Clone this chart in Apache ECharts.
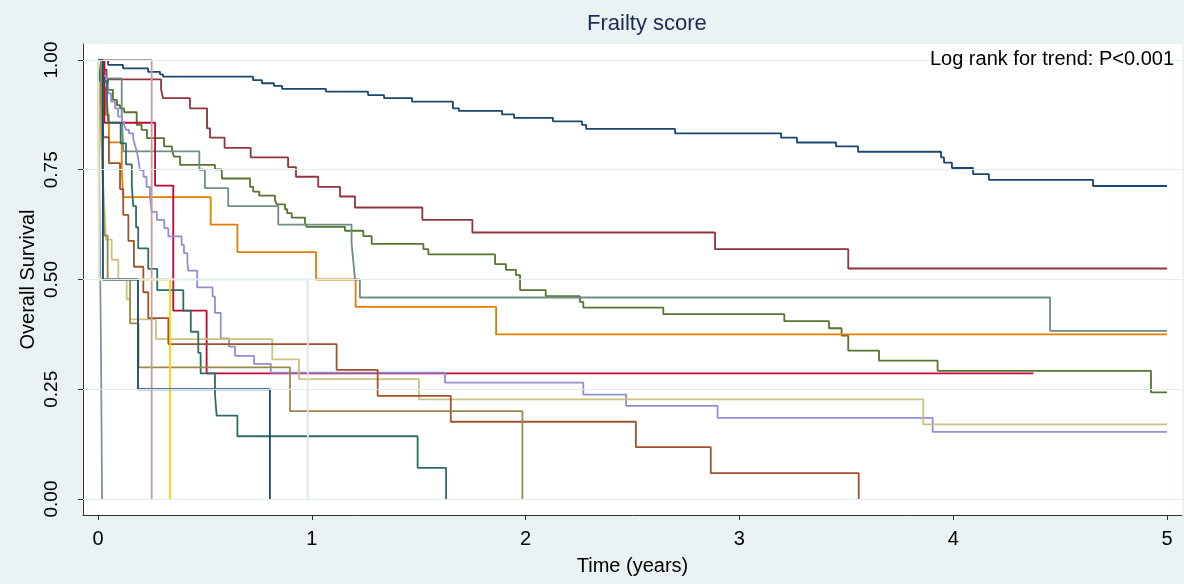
<!DOCTYPE html>
<html>
<head>
<meta charset="utf-8">
<script src="https://cdn.jsdelivr.net/npm/echarts@6/dist/echarts.min.js"></script>
<style>
  html, body { margin: 0; padding: 0; background: #eaf2f3; }
  #chart { width: 1184px; height: 584px; }
</style>
</head>
<body>
<div id="chart"></div>
<script>
// Kaplan-Meier step curves by frailty score: time (years) where each level starts, and survival level.
const score0Time = [0, 0.047, 0.117, 0.234, 0.290, 0.304, 0.725, 0.767, 0.823, 0.861, 1.066, 1.263, 1.338, 1.469, 1.660, 1.688, 1.890, 1.946, 2.128, 2.264, 2.283, 2.699, 3.195, 3.269, 3.452, 3.555, 3.943, 3.957, 3.994, 4.093, 4.167, 4.654, 5.0];
const score0Surv = [1, 0.989, 0.981, 0.973, 0.967, 0.962, 0.954, 0.947, 0.941, 0.934, 0.928, 0.920, 0.913, 0.905, 0.890, 0.884, 0.876, 0.868, 0.860, 0.852, 0.843, 0.833, 0.823, 0.812, 0.803, 0.791, 0.778, 0.766, 0.754, 0.740, 0.727, 0.713, 0.713];

const score1Time = [0, 0.023, 0.040, 0.295, 0.304, 0.430, 0.510, 0.524, 0.592, 0.714, 0.889, 0.926, 1.030, 1.132, 1.202, 1.517, 1.751, 2.886, 3.509, 5.0];
const score1Surv = [1, 0.978, 0.956, 0.933, 0.913, 0.890, 0.844, 0.823, 0.800, 0.778, 0.756, 0.734, 0.711, 0.689, 0.664, 0.636, 0.607, 0.569, 0.525, 0.525];

const score2Time = [0, 0.023, 0.047, 0.070, 0.089, 0.103, 0.122, 0.181, 0.204, 0.229, 0.309, 0.346, 0.355, 0.384, 0.547, 0.579, 0.711, 0.726, 0.754, 0.828, 0.836, 0.875, 0.885, 0.906, 0.968, 0.976, 1.155, 1.241, 1.280, 1.522, 1.545, 1.857, 1.908, 1.955, 1.974, 2.094, 2.254, 2.270, 2.644, 3.210, 3.419, 3.478, 3.509, 3.653, 3.927, 4.925, 5.0];
const score2Surv = [1, 0.955, 0.932, 0.909, 0.897, 0.890, 0.881, 0.852, 0.841, 0.822, 0.803, 0.795, 0.780, 0.761, 0.751, 0.730, 0.711, 0.700, 0.691, 0.680, 0.671, 0.660, 0.651, 0.641, 0.629, 0.620, 0.611, 0.599, 0.581, 0.569, 0.557, 0.535, 0.522, 0.510, 0.476, 0.462, 0.449, 0.436, 0.421, 0.405, 0.389, 0.372, 0.338, 0.315, 0.292, 0.243, 0.243];

const score3Time = [0, 0.019, 0.037, 0.051, 0.111, 0.118, 0.527, 0.652, 1.020, 1.205, 1.862, 5.0];
const score3Surv = [1, 0.9375, 0.875, 0.8125, 0.75, 0.6875, 0.625, 0.5625, 0.5, 0.4375, 0.375, 0.375];

const score4Time = [0, 0.028, 0.111, 0.115, 0.118, 0.474, 0.500, 0.609, 0.843, 1.186, 1.194, 1.202, 1.225, 4.453, 5.0];
const score4Surv = [1, 0.958, 0.875, 0.833, 0.792, 0.750, 0.708, 0.667, 0.625, 0.583, 0.542, 0.500, 0.459, 0.383, 0.383];

const score5Time = [0, 0.030, 0.267, 0.352, 0.508, 4.375];
const score5Surv = [1, 0.857, 0.714, 0.429, 0.286, 0.286];

const score6Time = [0, 0.023, 0.037, 0.047, 0.061, 0.080, 0.094, 0.112, 0.122, 0.131, 0.145, 0.164, 0.173, 0.182, 0.189, 0.196, 0.213, 0.227, 0.243, 0.251, 0.275, 0.310, 0.329, 0.391, 0.402, 0.418, 0.422, 0.464, 0.536, 0.547, 0.574, 0.613, 0.641, 0.730, 0.808, 1.623, 2.270, 2.470, 2.898, 3.904, 5.0];
const score6Surv = [1, 0.964, 0.946, 0.924, 0.905, 0.890, 0.871, 0.859, 0.852, 0.841, 0.833, 0.822, 0.806, 0.791, 0.772, 0.749, 0.734, 0.711, 0.689, 0.654, 0.636, 0.617, 0.598, 0.579, 0.560, 0.538, 0.520, 0.482, 0.461, 0.424, 0.366, 0.347, 0.326, 0.308, 0.288, 0.265, 0.238, 0.212, 0.185, 0.153, 0.153];

const score7Time = [0, 0.005, 0.007, 0.009, 0.014, 0.019, 0.023, 0.028, 0.033, 0.037, 0.064, 0.095, 0.134, 0.150, 0.271, 0.815, 0.940, 1.501, 3.860, 5.0];
const score7Surv = [1, 0.955, 0.909, 0.864, 0.818, 0.773, 0.727, 0.682, 0.636, 0.591, 0.545, 0.500, 0.455, 0.409, 0.364, 0.318, 0.273, 0.227, 0.170, 0.170];

const score8Time = [0, 0.014, 0.019, 0.025, 0.051, 0.103, 0.118, 0.142, 0.168, 0.212, 0.235, 0.329, 1.116, 1.308, 1.650, 2.516, 2.866, 3.558];
const score8Surv = [1, 0.941, 0.882, 0.824, 0.765, 0.706, 0.647, 0.588, 0.529, 0.471, 0.412, 0.353, 0.294, 0.235, 0.176, 0.118, 0.059, 0];

const score9Time = [0, 0.007, 0.014, 0.019];
const score9Surv = [1, 0.667, 0.333, 0];

const score10Time = [0, 0.009, 0.042, 0.048, 0.106, 0.131, 0.158, 0.165, 0.178, 0.188, 0.235, 0.277, 0.399, 0.434, 0.469, 0.480, 0.547, 0.555, 0.652, 1.495, 1.628];
const score10Surv = [1, 0.952, 0.905, 0.857, 0.810, 0.762, 0.714, 0.667, 0.619, 0.571, 0.524, 0.476, 0.429, 0.381, 0.333, 0.286, 0.238, 0.190, 0.143, 0.071, 0];

const score11Time = [0, 0.014, 0.019, 0.023, 0.029, 0.045, 0.150, 0.189, 0.898, 1.985];
const score11Surv = [1, 0.9, 0.8, 0.7, 0.6, 0.5, 0.4, 0.3, 0.2, 0];

const score12Time = [0, 0.251];
const score12Surv = [1, 0];

const score13Time = [0, 0.006, 0.337];
const score13Surv = [1, 0.5, 0];

const score14Time = [0, 0.005, 0.981];
const score14Surv = [1, 0.5, 0];

const score15Time = [0, 0.023, 0.187, 0.804];
const score15Surv = [1, 0.5, 0.25, 0];

// Stata s2color line colours, cycling for the 16th group
const lineColors = ['#1a476f', '#90353b', '#55752f', '#e37e00', '#6e8e84', '#c10534', '#938dd2', '#cac27e',
                    '#a0522d', '#7b92a8', '#2d6d66', '#9c8847', '#bfa19c', '#ffd200', '#d9e6eb', '#1a476f'];

const xTicks = [0, 1, 2, 3, 4, 5];
const yTicks = [0, 0.25, 0.5, 0.75, 1];

const groups = [
  [score0Time, score0Surv], [score1Time, score1Surv], [score2Time, score2Surv], [score3Time, score3Surv],
  [score4Time, score4Surv], [score5Time, score5Surv], [score6Time, score6Surv], [score7Time, score7Surv],
  [score8Time, score8Surv], [score9Time, score9Surv], [score10Time, score10Surv], [score11Time, score11Surv],
  [score12Time, score12Surv], [score13Time, score13Surv], [score14Time, score14Surv], [score15Time, score15Surv]
];

const font = 'Arial, "Liberation Sans", Helvetica, sans-serif';

const curveSeries = groups.map(([time, surv], i) => ({
  name: 'Score ' + i,
  type: 'line',
  step: 'end',
  showSymbol: false,
  symbol: 'none',
  z: 3,
  clip: false,
  lineStyle: { color: lineColors[i], width: 1.8 },
  data: time.map((t, k) => [t, surv[k]])
}));

const gridSeries = {
  name: 'grid',
  type: 'line',
  z: 1,
  data: [],
  markLine: {
    silent: true,
    symbol: 'none',
    label: { show: false },
    lineStyle: { color: '#e3ecef', width: 1.2, type: 'solid' },
    data: yTicks.map(v => ({ yAxis: v }))
  }
};

const chart = echarts.init(document.getElementById('chart'), null, { renderer: 'canvas' });
chart.setOption({
  animation: false,
  backgroundColor: '#eaf2f3',
  title: [
    {
      text: 'Frailty score',
      left: 582, top: 8,
      textStyle: { fontFamily: font, fontSize: 22, fontWeight: 'normal', color: '#1c2b55' }
    },
    {
      text: 'Log rank for trend: P<0.001',
      right: 5, top: 44,
      textStyle: { fontFamily: font, fontSize: 20, fontWeight: 'normal', color: '#000' }
    }
  ],
  grid: {
    left: 83, right: 2, top: 44, bottom: 69,
    show: true, backgroundColor: '#ffffff', borderWidth: 0
  },
  xAxis: {
    type: 'value',
    min: -0.0702, max: 5.0701,
    name: 'Time (years)',
    nameLocation: 'middle',
    nameGap: 41,
    nameTextStyle: { fontFamily: font, fontSize: 20, color: '#000' },
    axisLine: { show: true, onZero: false, lineStyle: { color: '#333', width: 1 } },
    axisTick: { show: true, length: 5, customValues: xTicks, lineStyle: { color: '#333' } },
    axisLabel: { customValues: xTicks, margin: 14, fontFamily: font, fontSize: 20, color: '#000' },
    splitLine: { show: false }
  },
  yAxis: {
    type: 'value',
    min: -0.0364, max: 1.0364,
    name: 'Overall Survival',
    nameLocation: 'middle',
    nameGap: 45,
    nameMoveOverlap: false,
    nameTextStyle: { fontFamily: font, fontSize: 20, color: '#000' },
    axisLine: { show: true, onZero: false, lineStyle: { color: '#333', width: 1 } },
    axisTick: { show: true, length: 5, customValues: yTicks, lineStyle: { color: '#333' } },
    axisLabel: {
      customValues: yTicks, rotate: 90, margin: 22,
      fontFamily: font, fontSize: 19, color: '#000',
      formatter: v => v.toFixed(2)
    },
    splitLine: { show: false }
  },
  series: [gridSeries].concat(curveSeries)
});
</script>
</body>
</html>
